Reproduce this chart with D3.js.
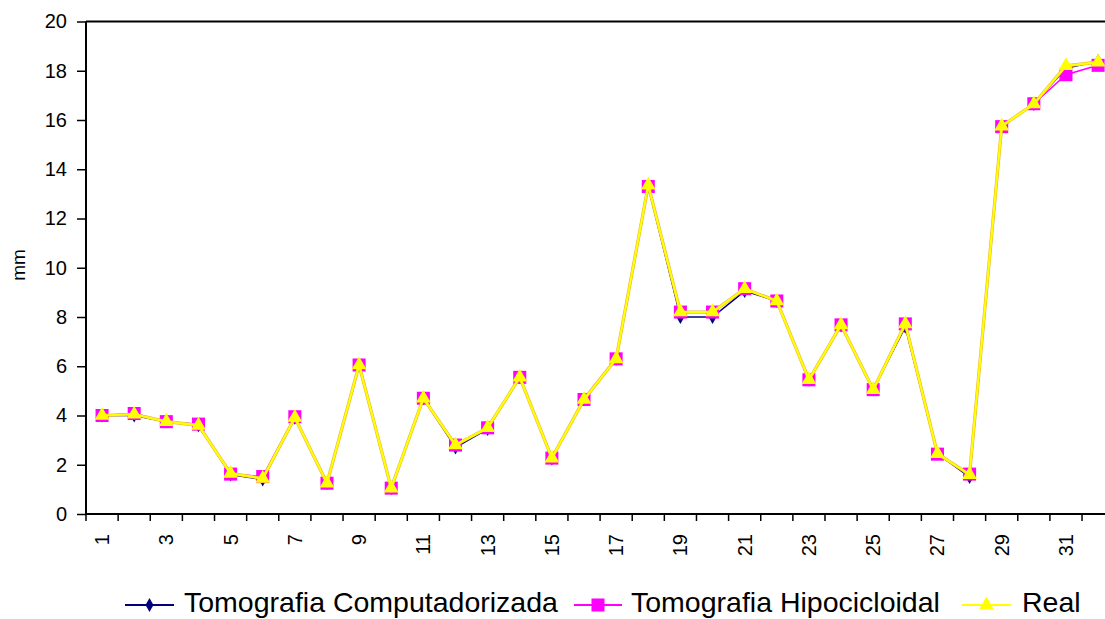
<!DOCTYPE html>
<html>
<head>
<meta charset="utf-8">
<script src="https://cdn.jsdelivr.net/npm/d3@7"></script>
<style>
  body { margin: 0; background: #fff; }
  svg { display: block; font-family: "Liberation Sans", Arial, sans-serif; }
</style>
</head>
<body>
<svg id="chart"></svg>
<script>
// categories (measurement number)
const categories = [1, 2, 3, 4, 5, 6, 7, 8, 9, 10, 11, 12, 13, 14, 15, 16,
  17, 18, 19, 20, 21, 22, 23, 24, 25, 26, 27, 28, 29, 30, 31, 32];

// series values, in mm
const tomoComp = [4.0, 4.0, 3.75, 3.6, 1.6, 1.4, 3.9, 1.25, 6.05, 1.05, 4.7, 2.7, 3.45, 5.55, 2.25, 4.65,
  6.3, 13.3, 8.0, 8.0, 9.05, 8.65, 5.45, 7.65, 5.05, 7.6, 2.45, 1.5, 15.75, 16.65, 18.1, 18.4];
const tomoHipo = [4.0, 4.08, 3.75, 3.65, 1.62, 1.52, 3.95, 1.25, 6.05, 1.05, 4.7, 2.8, 3.5, 5.55, 2.27, 4.65,
  6.3, 13.3, 8.2, 8.2, 9.15, 8.65, 5.45, 7.68, 5.05, 7.72, 2.43, 1.62, 15.73, 16.66, 17.84, 18.22];
const real = [4.0, 4.05, 3.75, 3.6, 1.65, 1.44, 3.92, 1.25, 6.05, 1.05, 4.7, 2.8, 3.5, 5.55, 2.27, 4.65,
  6.3, 13.35, 8.2, 8.2, 9.15, 8.65, 5.45, 7.68, 5.05, 7.72, 2.45, 1.6, 15.75, 16.65, 18.2, 18.35];

const yTicks = [0, 2, 4, 6, 8, 10, 12, 14, 16, 18, 20];
const seriesNames = ['Tomografia Computadorizada', 'Tomografia Hipocicloidal', 'Real'];

const width = 1105, height = 619;
const marginLeft = 86, marginTop = 21.5, plotBottom = 514;
const step = 32.13;

const svg = d3.select('#chart')
  .attr('width', width)
  .attr('height', height)
  .attr('viewBox', [0, 0, width, height]);

const x = d3.scaleBand()
  .domain(categories)
  .range([marginLeft, marginLeft + step * categories.length])
  .padding(0);
const y = d3.scaleLinear().domain([0, 20]).range([plotBottom, marginTop]);

// top border of plot area
svg.append('line')
  .attr('x1', marginLeft).attr('x2', x.range()[1])
  .attr('y1', y(20)).attr('y2', y(20))
  .attr('stroke', '#000').attr('stroke-width', 2);

// y axis
const yAxis = svg.append('g')
  .attr('transform', `translate(${marginLeft},0)`)
  .call(d3.axisLeft(y).tickValues(yTicks).tickSize(9).tickPadding(10).tickFormat(d3.format('d')));
yAxis.select('.domain').attr('stroke-width', 2).attr('d', `M0,${y(0)}V${y(20)}`);
yAxis.selectAll('.tick line').attr('stroke-width', 1.5);
yAxis.selectAll('.tick text').attr('font-size', 20).attr('fill', '#000')
  .attr('font-family', '"Liberation Sans", Arial, sans-serif');

// x axis: ticks on category boundaries, labels on every other category
const xAxisG = svg.append('g').attr('transform', `translate(0,${plotBottom})`);
xAxisG.append('line')
  .attr('x1', marginLeft).attr('x2', x.range()[1])
  .attr('stroke', '#000').attr('stroke-width', 2);
xAxisG.selectAll('line.tk')
  .data(categories)
  .join('line')
    .attr('class', 'tk')
    .attr('x1', d => x(d)).attr('x2', d => x(d))
    .attr('y1', 0).attr('y2', 7)
    .attr('stroke', '#000').attr('stroke-width', 1.5);
xAxisG.selectAll('text')
  .data(categories.filter(d => d % 2 === 1))
  .join('text')
    .attr('transform', d => `translate(${x(d) + x.bandwidth() / 2},20) rotate(-90)`)
    .attr('text-anchor', 'end')
    .attr('dy', '0.35em')
    .attr('font-size', 20)
    .text(d => d);

// y label
svg.append('text')
  .attr('transform', `translate(18,265) rotate(-90)`)
  .attr('text-anchor', 'middle')
  .attr('dy', '0.35em')
  .attr('font-size', 19)
  .text('mm');

const colors = ['#000080', '#FF00FF', '#FFFF00'];
const symbols = [
  d3.symbol(d3.symbolDiamond, 55),
  d3.symbol(d3.symbolSquare, 170),
  d3.symbol(d3.symbolTriangle, 95)
];
const lineWidths = [1.5, 1.5, 2.2];
const allSeries = [tomoComp, tomoHipo, real];

const line = d3.line()
  .x((d, i) => x(categories[i]) + x.bandwidth() / 2)
  .y(d => y(d));

allSeries.forEach((vals, s) => {
  const g = svg.append('g');
  if (s === 2) {
    // darker rim under the yellow line
    g.append('path')
      .attr('d', line(vals))
      .attr('fill', 'none')
      .attr('stroke', '#E8B040')
      .attr('stroke-width', 3.2);
  }
  g.append('path')
    .attr('d', line(vals))
    .attr('fill', 'none')
    .attr('stroke', colors[s])
    .attr('stroke-width', lineWidths[s]);
  g.selectAll('path.m')
    .data(vals)
    .join('path')
      .attr('class', 'm')
      .attr('transform', (d, i) => `translate(${x(categories[i]) + x.bandwidth() / 2},${y(d)})`)
      .attr('d', symbols[s])
      .attr('fill', colors[s]);
});

// legend
const legendItems = [
  { x0: 125, x1: 174, tx: 184 },
  { x0: 574, x1: 622, tx: 631 },
  { x0: 962, x1: 1011, tx: 1022 }
];
const lg = svg.append('g');
legendItems.forEach((it, s) => {
  const ly = 605;
  lg.append('line')
    .attr('x1', it.x0).attr('x2', it.x1)
    .attr('y1', ly).attr('y2', ly)
    .attr('stroke', colors[s])
    .attr('stroke-width', s === 2 ? 2.2 : 2);
  lg.append('path')
    .attr('transform', `translate(${(it.x0 + it.x1) / 2},${ly})`)
    .attr('d', symbols[s])
    .attr('fill', colors[s]);
  lg.append('text')
    .attr('x', it.tx)
    .attr('y', 612)
    .attr('font-size', 28.5)
    .text(seriesNames[s]);
});
</script>
</body>
</html>
